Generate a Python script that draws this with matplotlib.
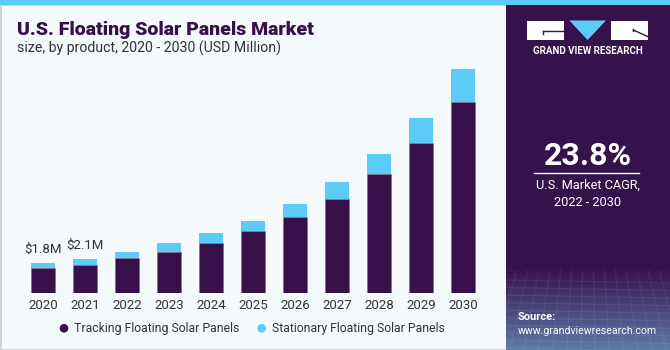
import numpy as np
import matplotlib
matplotlib.use("Agg")
import matplotlib.pyplot as plt
from matplotlib.patches import Rectangle, Polygon, Circle

# ---- data ----
years = ["2020", "2021", "2022", "2023", "2024", "2025", "2026", "2027", "2028", "2029", "2030"]
tracking = [1.51, 1.71, 2.12, 2.48, 3.07, 3.76, 4.63, 5.75, 7.24, 9.13, 11.63]
stationary = [0.30, 0.38, 0.37, 0.55, 0.57, 0.65, 0.80, 1.00, 1.22, 1.54, 2.01]
value_labels = {0: "$1.8M", 1: "$2.1M"}
series_names = ["Tracking Floating Solar Panels", "Stationary Floating Solar Panels"]
title = "U.S. Floating Solar Panels Market"
subtitle = "size, by product, 2020 - 2030 (USD Million)"
cagr = "23.8%"
cagr_text = "U.S. Market CAGR,\n2022 - 2030"

DARK = "#37104A"
BLUE = "#5DCBF7"
PANEL = "#36124A"
BG = "#F4F9FC"
TXT = "#333333"

W, H = 670, 350
fig = plt.figure(figsize=(W / 100, H / 100), dpi=100)
fig.patch.set_facecolor(BG)
plt.rcParams['font.family'] = ['Roboto', 'DejaVu Sans']

# decoration layer in pixel coordinates
bg = fig.add_axes([0, 0, 1, 1])
bg.set_xlim(0, W)
bg.set_ylim(H, 0)
bg.axis("off")
bg.set_zorder(0)
# frame of the left area
bg.add_patch(Rectangle((0.5, 5), 506, 344.5, facecolor=BG, edgecolor="#C8CCD0", lw=1.2))
# top stripe
bg.add_patch(Rectangle((0, 0), W, 5, facecolor=BLUE, edgecolor="none"))
# right panel
bg.add_patch(Rectangle((506, 5), W - 506, H - 5, facecolor=PANEL, edgecolor="none"))
# gradient at panel bottom
grad = np.linspace(0, 1, 100)[:, None]
c0 = np.array([0x36, 0x12, 0x4A]) / 255
c1 = np.array([0x5E, 0x7A, 0xA8]) / 255
img = c0[None, None, :] * (1 - grad[:, :, None]) + c1[None, None, :] * grad[:, :, None]
img = np.repeat(img, 2, axis=1)
bg.imshow(img, extent=(506, W, H, 268), aspect="auto", zorder=1)
# faint grid lines in the gradient
for yy in np.linspace(280, 348, 10):
    bg.plot([506, W], [yy, yy + 3], color="white", alpha=0.07, lw=0.8, zorder=2)
for xx in np.linspace(506, W, 16):
    bg.plot([xx, xx + (xx - 588) * 0.3], [270, H], color="white", alpha=0.07, lw=0.8, zorder=2)

# logo
bg.add_patch(Rectangle((527, 20.5), 36.5, 19.5, facecolor="white", edgecolor="none", zorder=3))
bg.plot([543, 563.5], [31, 31], color=PANEL, lw=1, zorder=4)
bg.plot([543, 543], [31, 34], color=PANEL, lw=1, zorder=4)
bg.add_patch(Polygon([[569.3, 20.5], [606, 20.5], [587.6, 40]], facecolor=BLUE, edgecolor="none", zorder=3))
bg.add_patch(Rectangle((610.7, 20.5), 37.3, 19.5, facecolor="white", edgecolor="none", zorder=3))
bg.plot([633.3, 648], [30, 36.7], color=PANEL, lw=1, zorder=4)
bg.plot([633.3, 633.3], [29, 30.5], color=PANEL, lw=1, zorder=4)
bg.text(587.5, 51, "GRAND VIEW RESEARCH", color="white", fontsize=7, fontweight="bold",
        ha="center", va="center", zorder=4)

# CAGR block
bg.text(588, 156, cagr, color="white", fontsize=23, fontweight="bold", ha="center", va="center", zorder=4)
bg.plot([534, 639], [173, 173], color="white", lw=1, zorder=4)
bg.text(588, 194, cagr_text, color="white", fontsize=9.2, ha="center", va="center",
        linespacing=1.35, zorder=4)
bg.text(518, 316.5, "Source:", color="white", fontsize=8, fontweight="bold", ha="left", va="center", zorder=4)
bg.text(518, 330.5, "www.grandviewresearch.com", color="white", fontsize=7.6, ha="left", va="center", zorder=4)

# titles
bg.text(17, 35, title, color=DARK, fontsize=14, fontweight="black", ha="left", va="baseline", zorder=4)
bg.text(17, 53, subtitle, color=TXT, fontsize=10.2, ha="left", va="baseline", zorder=4)

# legend
bg.add_patch(Circle((64, 328.3), 4.3, facecolor=DARK, edgecolor="none", zorder=4))
bg.text(74, 328.3, series_names[0], color=TXT, fontsize=8.8, ha="left", va="center", zorder=4)
bg.add_patch(Circle((261.7, 328.3), 4.3, facecolor=BLUE, edgecolor="none", zorder=4))
bg.text(272, 328.3, series_names[1], color=TXT, fontsize=8.8, ha="left", va="center", zorder=4)

# ---- chart ----
ax = fig.add_axes([20 / W, 57 / H, 466 / W, 229.6 / H])
ax.set_zorder(2)
ax.patch.set_alpha(0)
x = np.arange(len(years))
ax.bar(x, tracking, width=0.57, color=DARK, edgecolor="#7A6A88", linewidth=0.4)
ax.bar(x, stationary, bottom=tracking, width=0.57, color=BLUE, edgecolor="none")
for i, lab in value_labels.items():
    ax.text(x[i], tracking[i] + stationary[i] + 0.45, lab, ha="center", va="bottom",
            fontsize=9.5, color=TXT)
ax.set_xlim(-0.55, len(years) - 0.45)
ax.set_ylim(0, 14)
ax.set_xticks(x)
ax.set_xticklabels(years, fontsize=9.5, color=TXT)
ax.tick_params(axis="x", length=0, pad=4)
ax.set_yticks([])
for s in ax.spines.values():
    s.set_visible(False)

fig.savefig("out.png", dpi=100, facecolor=BG)
